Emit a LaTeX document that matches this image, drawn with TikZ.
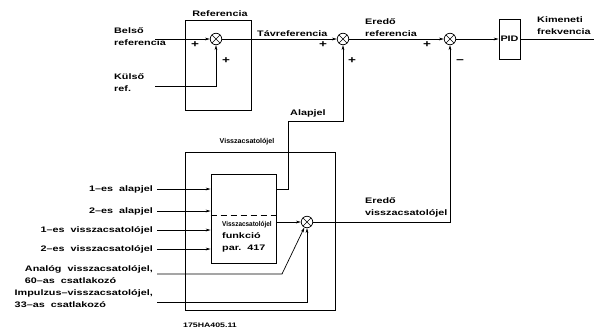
\documentclass[tikz,border=0pt]{standalone}
\usepackage{fontspec}
\setmainfont{Liberation Sans}[FakeStretch=1.35]
\usetikzlibrary{arrows.meta}
\newcommand{\lblfont}{\fontsize{8}{12}\selectfont\bfseries}
\tikzset{
  conn/.style={line width=0.7pt},
  arr/.style={conn,-{Stealth[length=5pt,width=2.8pt]}},
  blk/.style={draw,line width=0.7pt,inner sep=0},
  sumj/.style={circle,draw,line width=0.7pt,minimum size=11.5pt,inner sep=0,
    path picture={\draw[line width=0.6pt]
      (path picture bounding box.north west) -- (path picture bounding box.south east)
      (path picture bounding box.north east) -- (path picture bounding box.south west);}},
  lbl/.style={font=\lblfont,inner sep=0,align=left},
  sgn/.style={font=\fontsize{10}{10}\selectfont\bfseries,inner sep=0}
}
\begin{document}
\begin{tikzpicture}[x=1pt,y=-1pt]
\useasboundingbox (0,0) rectangle (594,335);
% upper part
\node[blk,minimum width=66pt,minimum height=90pt] (refbox) at (218,65) {};
\node[lbl,anchor=south] (reflbl) at (220,17) {Referencia};
\node[sumj] (s1) at (216,39) {};
\node[sumj] (s2) at (343,39) {};
\node[sumj] (s3) at (450,39) {};
\node[blk,minimum width=21pt,minimum height=40pt,font=\lblfont] (pid) at (509.5,39) {PID};
\node[lbl,anchor=west] (belso) at (114,37) {Belső\\referencia};
\node[lbl,anchor=west] (kulso) at (114,83) {Külső\\ref.};
\coordinate (belsoend) at (155,39);
\coordinate (kulsoend) at (155,86);
\coordinate (kulsocorner) at (216,86);
\coordinate (outend) at (594,39);
\node[sgn] (p1) at (195,45) {+};
\node[sgn] (p2) at (226,61) {+};
\node[sgn] (p3) at (323,45) {+};
\node[sgn] (p4) at (352,61) {+};
\node[sgn] (p5) at (427,45) {+};
\node[sgn] (m1) at (460,62) {−};
\node[lbl,anchor=south west] (tavlbl) at (257,37) {Távreferencia};
\node[lbl,anchor=south west] (eredolbl) at (365,37) {Eredő\\referencia};
\node[lbl,anchor=south west] (kimlbl) at (537,35) {Kimeneti\\frekvencia};
\draw[arr] (belsoend) -- (s1);
\draw[arr] (kulsoend) -- (kulsocorner) -- (s1);
\draw[arr] (s1) -- (s2);
\draw[arr] (s2) -- (s3);
\draw[arr] (s3) -- (pid);
\draw[conn] (pid) -- (outend);
% lower part
\node[blk,minimum width=150pt,minimum height=158pt] (fbbox) at (260,231) {};
\node[lbl,anchor=south] (fblbl) at (247,145) {\fontsize{7}{8}\selectfont\scalebox{0.75}[1]{Visszacsatolójel}};
\node[blk,minimum width=65pt,minimum height=89pt] (inner) at (243.5,218.5) {};
\draw[conn,dash pattern=on 6pt off 4pt] (inner.west |- 0,215) -- (inner.east |- 0,215);
\node[lbl,anchor=north west] (innertxt) at (222,221)
  {\fontsize{7}{12}\selectfont\scalebox{0.68}[1]{Visszacsatolójel}\\funkció\\par.~~417};
\node[sumj] (s4) at (307,222) {};
\node[lbl,anchor=east] (in1) at (153,189) {1–es~~alapjel};
\node[lbl,anchor=east] (in2) at (153,211) {2–es~~alapjel};
\node[lbl,anchor=east] (in3) at (153,230) {1–es~~visszacsatolójel};
\node[lbl,anchor=east] (in4) at (153,249) {2–es~~visszacsatolójel};
\node[lbl,anchor=north east] (in5) at (153,265) {Analóg~~visszacsatolójel,\\60–as~~csatlakozó};
\node[lbl,anchor=north east] (in6) at (153,289) {Impulzus–visszacsatolójel,\\33–as~~csatlakozó};
\coordinate (in1e) at (157,189);
\coordinate (in2e) at (157,211);
\coordinate (in3e) at (157,230);
\coordinate (in4e) at (157,249);
\coordinate (in5e) at (157,274);
\coordinate (in5c) at (282,274);
\coordinate (in6e) at (157,302);
\coordinate (in6c) at (307,302);
\draw[arr] (in1e) -- (in1e -| inner.west);
\draw[arr] (in2e) -- (in2e -| inner.west);
\draw[arr] (in3e) -- (in3e -| inner.west);
\draw[arr] (in4e) -- (in4e -| inner.west);
\draw[arr] (in5e) -- (in5c) -- (s4);
\draw[arr] (in6e) -- (in6c) -- (s4);
\draw[arr] (inner.east |- s4) -- (s4);
% Alapjel path
\coordinate (ap1) at (288,189);
\coordinate (ap2) at (288,121);
\draw[arr] (inner.east |- ap1) -- (ap1) -- (ap2) -- (ap2 -| s2) -- (s2);
\node[lbl,anchor=south west] (aplbl) at (290,117) {Alapjel};
% feedback path
\draw[arr] (s4) -- (s4 -| s3) -- (s3);
\node[lbl,anchor=south west] (evlbl) at (365,217) {Eredő\\visszacsatolójel};
\node[lbl,anchor=center] (code) at (210,325) {\fontsize{6.5}{8}\selectfont 175HA405.11};
\end{tikzpicture}
\end{document}
